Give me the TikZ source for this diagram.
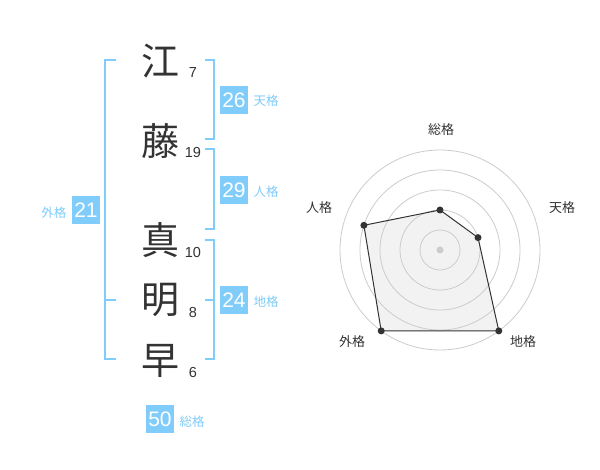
\documentclass[tikz,border=0pt]{standalone}
\usepackage{fontspec}
\setmainfont{Liberation Sans}
\newfontfamily\jp{Noto Sans CJK JP}
\definecolor{kblue}{RGB}{128,204,250}
\definecolor{kdark}{RGB}{51,51,51}
\definecolor{kring}{RGB}{204,204,204}
\definecolor{kfill}{RGB}{242,242,242}
\tikzset{
  kanji/.style={font=\jp\fontsize{38}{38}\selectfont, text=kdark, inner sep=0},
  strokes/.style={font=\fontsize{14.5}{14.5}\selectfont, text=kdark, inner sep=0},
  numbox/.style={fill=kblue, text=white, minimum size=28pt, inner sep=0, font=\fontsize{21}{21}\selectfont},
  kaku/.style={text=kblue, font=\jp\fontsize{12.5}{12.5}\selectfont, inner sep=0},
  bracket/.style={draw=kblue, line width=2pt},
  ring/.style={draw=kring, line width=0.8pt},
  axislabel/.style={font=\jp\fontsize{13}{13}\selectfont, text=kdark, inner sep=0},
  dot/.style={circle, fill=kdark, minimum size=7pt, inner sep=0},
  cdot/.style={circle, fill=kring, minimum size=7pt, inner sep=0},
  radarfill/.style={fill=kfill},
  radarline/.style={draw=kdark, line width=1pt, line join=miter}
}
\begin{document}
\begin{tikzpicture}[x=1pt,y=-1pt]
\useasboundingbox[fill=white] (0,0) rectangle (600,470);
% kanji
\node[kanji] (k1) at (160,61) {江};
\node[kanji] (k2) at (160,141) {藤};
\node[kanji] (k3) at (160,240) {真};
\node[kanji] (k4) at (160,300) {明};
\node[kanji] (k5) at (160,361) {早};
% strokes
\node[strokes] (s1) at (193,73) {7};
\node[strokes] (s2) at (193,153) {19};
\node[strokes] (s3) at (193,253) {10};
\node[strokes] (s4) at (193,313) {8};
\node[strokes] (s5) at (193,373) {6};
% brackets
\draw[bracket] (116,60) -- (105,60) -- (105,359) -- (116,359);
\draw[bracket] (105,300) -- (116,300);
\draw[bracket] (205,60) -- (214,60) -- (214,139) -- (205,139);
\draw[bracket] (205,149) -- (214,149) -- (214,229) -- (205,229);
\draw[bracket] (205,240) -- (214,240) -- (214,359) -- (205,359);
\draw[bracket] (205,300) -- (214,300);
% boxes
\node[numbox] (b1) at (234,100) {26};
\node[kaku] (l1) at (266,101) {天格};
\node[numbox] (b2) at (234,190) {29};
\node[kaku] (l2) at (266,192) {人格};
\node[numbox] (b3) at (234,300) {24};
\node[kaku] (l3) at (266,302) {地格};
\node[numbox] (b4) at (86,210) {21};
\node[kaku] (l4) at (54,213) {外格};
\node[numbox] (b5) at (160,419) {50};
\node[kaku] (l5) at (192,422) {総格};
% radar
\coordinate (p1) at (440,210);
\coordinate (p2) at (478.0,237.6);
\coordinate (p3) at (498.8,330.9);
\coordinate (p4) at (381.2,330.9);
\coordinate (p5) at (363.9,225.3);
\fill[radarfill] (p1) -- (p2) -- (p3) -- (p4) -- (p5) -- cycle;
\foreach \r in {20,40,60,80,100} \draw[ring] (440,250) circle[radius=\r];
\node[cdot] (c0) at (440,250) {};
\draw[radarline] (p1) -- (p2) -- (p3) -- (p4) -- (p5) -- cycle;
\foreach \p in {p1,p2,p3,p4,p5} \node[dot] at (\p) {};
\node[axislabel] (a1) at (441,130) {総格};
\node[axislabel] (a2) at (562,208) {天格};
\node[axislabel] (a3) at (523,342) {地格};
\node[axislabel] (a4) at (352,342) {外格};
\node[axislabel] (a5) at (319,208) {人格};
\end{tikzpicture}
\end{document}
